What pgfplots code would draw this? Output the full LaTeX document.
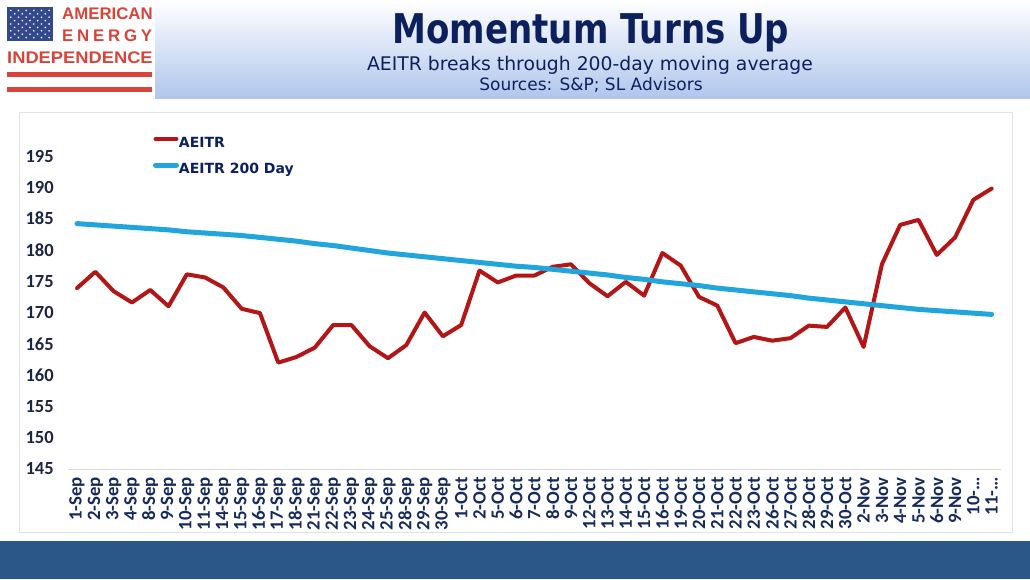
\documentclass[border=0pt]{standalone}
\usepackage{pgfplots}
\usepackage{pgfplotstable}
\pgfplotsset{compat=1.18}
\usepackage{graphicx}
\usepackage{fontspec}
\setmainfont{Carlito}
\newfontfamily\titlefont[FakeStretch=0.83]{DejaVu Sans}
\newfontfamily\subfont{DejaVu Sans}
\newfontfamily\legfont{DejaVu Sans}
\newfontfamily\logofont{Liberation Sans}
\definecolor{redline}{RGB}{178,22,22}
\definecolor{blueline}{RGB}{33,165,221}
\definecolor{navy}{RGB}{12,32,94}
\definecolor{ticknavy}{RGB}{22,42,92}
\definecolor{ylab}{RGB}{28,38,66}
\definecolor{hdrblue}{RGB}{176,198,236}
\definecolor{band}{RGB}{42,86,136}
\definecolor{logored}{RGB}{216,68,58}
\definecolor{logoblue}{RGB}{52,72,140}

\pgfplotstableread{
idx aeitr ma
0 173.9 184.2
1 176.5 184.0
2 173.4 183.8
3 171.6 183.6
4 173.6 183.4
5 171.0 183.2
6 176.1 182.9
7 175.6 182.7
8 174.0 182.5
9 170.6 182.3
10 169.9 182.0
11 162.0 181.7
12 162.9 181.4
13 164.4 181.0
14 168.0 180.7
15 168.0 180.3
16 164.6 179.9
17 162.7 179.5
18 164.8 179.2
19 170.0 178.9
20 166.2 178.6
21 168.0 178.3
22 176.7 178.0
23 174.8 177.7
24 175.9 177.4
25 175.9 177.2
26 177.3 176.9
27 177.7 176.6
28 174.7 176.3
29 172.6 176.0
30 174.9 175.6
31 172.7 175.3
32 179.5 174.9
33 177.5 174.6
34 172.5 174.3
35 171.1 173.9
36 165.1 173.6
37 166.1 173.3
38 165.5 173.0
39 165.9 172.7
40 167.9 172.3
41 167.7 172.0
42 170.8 171.7
43 164.5 171.4
44 177.7 171.1
45 184.0 170.8
46 184.8 170.5
47 179.2 170.3
48 182.0 170.1
49 188.0 169.9
50 189.8 169.7
}\datatable

\begin{document}
\begin{tikzpicture}
\begin{scope}[x=1pt,y=-1pt]
  \fill[white] (0,0) rectangle (1030,579);
  % header gradient
  \shade[top color=white, bottom color=hdrblue] (155,0) rectangle (1030,98);
  % logo
  \fill[white] (0,0) rectangle (155,97);
  \fill[logoblue] (7,7) rectangle (53,41);
  \foreach \r in {0,2,4,6,8} {
    \foreach \c in {0,...,5} {
      \fill[white] ({7+3.83*(2*\c+1)},{7+3.4*(\r+1)}) circle (0.9);
    }
  }
  \foreach \r in {1,3,5,7} {
    \foreach \c in {0,...,4} {
      \fill[white] ({7+3.83*(2*\c+2)},{7+3.4*(\r+1)}) circle (0.9);
    }
  }
  \node[anchor=south west, inner sep=0pt, text=logored] at (62,20) {\logofont\bfseries\fontsize{16.8}{16.8}\selectfont AMERICAN};
  \node[anchor=south west, inner sep=0pt, text=logored] at (62,42) {\logofont\bfseries\fontsize{16.8}{16.8}\selectfont\makebox[90pt][s]{E\hfill N\hfill E\hfill R\hfill G\hfill Y}};
  \node[anchor=south west, inner sep=0pt, text=logored] at (7,64) {\logofont\bfseries\fontsize{16.8}{16.8}\selectfont\scalebox{1.09}[1]{INDEPENDENCE}};
  \fill[logored] (7,72) rectangle (152,77);
  \fill[logored] (7,87) rectangle (152,92);
  % titles
  \node[anchor=base, inner sep=0pt, text=navy] at (591,43) {\titlefont\bfseries\fontsize{41}{41}\selectfont Momentum Turns Up};
  \node[anchor=base, inner sep=0pt, text=navy] at (590,70) {\subfont\fontsize{18.8}{18.8}\selectfont AEITR breaks through 200-day moving average};
  \node[anchor=base, inner sep=0pt, text=navy] at (591,90) {\subfont\fontsize{17}{17}\selectfont Sources: S\&P; SL Advisors};
  % chart frame
  \draw[gray!22, line width=1pt] (19,112.5) rectangle (1012,532.5);
  % bottom band
  \fill[band] (0,541) rectangle (1030,579);
\end{scope}

\begin{axis}[
  at={(67.9pt,-469pt)}, anchor=south west,
  scale only axis, width=932.9pt, height=344.3pt,
  xmin=-0.5, xmax=50.5, ymin=145, ymax=200,
  axis x line*=bottom, axis y line*=left,
  x axis line style={draw=gray!30, line width=1pt, -},
  y axis line style={draw=none},
  tick style={draw=none}, major tick length=0pt,
  /pgf/number format/assume math mode=true,
  xtick={0,...,50},
  xticklabels={1-Sep,2-Sep,3-Sep,4-Sep,8-Sep,9-Sep,10-Sep,11-Sep,14-Sep,15-Sep,16-Sep,17-Sep,18-Sep,21-Sep,22-Sep,23-Sep,24-Sep,25-Sep,28-Sep,29-Sep,30-Sep,1-Oct,2-Oct,5-Oct,6-Oct,7-Oct,8-Oct,9-Oct,12-Oct,13-Oct,14-Oct,15-Oct,16-Oct,19-Oct,20-Oct,21-Oct,22-Oct,23-Oct,26-Oct,27-Oct,28-Oct,29-Oct,30-Oct,2-Nov,3-Nov,4-Nov,5-Nov,6-Nov,9-Nov,10-…,11-…},
  xticklabel style={rotate=90, anchor=east, inner sep=0pt, inner xsep=8pt, text=ticknavy, font=\bfseries\fontsize{18.8}{18.8}\selectfont},
  ytick={145,150,...,195},
  yticklabel style={anchor=east, inner sep=0pt, inner xsep=14pt, text=ylab, font=\bfseries\fontsize{18.5}{18.5}\selectfont},
  legend style={at={(rel axis cs:0.0912,0.9643)}, anchor=north west, draw=none, fill=none, inner sep=0pt, outer sep=0pt, row sep=12pt, font=\legfont\bfseries\fontsize{14}{14}\selectfont, text=navy, nodes={inner sep=0pt, text height=10pt, text depth=3pt}, /tikz/every even column/.append style={column sep=0pt}},
  legend cell align=left,
  legend image code/.code={\draw[#1, line cap=round] (2pt,5pt) -- (23pt,5pt);},
]
\addplot[redline, line width=4pt, line join=round, line cap=round] table[x=idx, y=aeitr]{\datatable};
\addlegendentry{AEITR}
\addplot[blueline, line width=5pt, line join=round, line cap=round] table[x=idx, y=ma]{\datatable};
\addlegendentry{AEITR 200 Day}
\end{axis}
\pgfresetboundingbox
\path[use as bounding box] (0pt,0pt) rectangle (1030pt,-579pt);
\end{tikzpicture}
\end{document}
